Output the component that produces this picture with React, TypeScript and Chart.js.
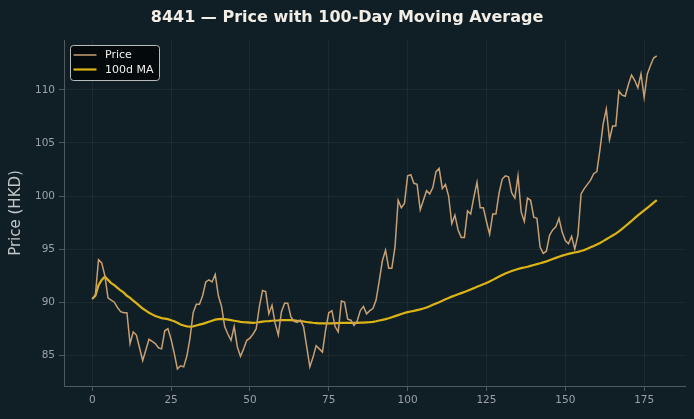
import React, { useEffect, useRef } from "react";
import { Chart, registerables } from "chart.js";

Chart.register(...registerables);

const TITLE = "8441 — Price with 100-Day Moving Average";
const Y_LABEL = "Price (HKD)";
const SERIES_NAMES = ["Price", "100d MA"];

const PRICE = [
  90.3, 90.7, 94.0, 93.7, 92.5, 90.4, 90.2, 90.0, 89.5, 89.1,
  89.0, 89.0, 86.1, 87.2, 86.9, 85.7, 84.5, 85.5, 86.5, 86.3,
  86.1, 85.7, 85.6, 87.3, 87.5, 86.5, 85.2, 83.7, 84.0, 83.9,
  84.9, 86.6, 89.0, 89.8, 89.8, 90.6, 91.9, 92.1, 91.9, 92.6,
  90.6, 89.6, 87.7, 87.0, 86.4, 87.7, 85.8, 84.9, 85.6, 86.4,
  86.6, 87.0, 87.5, 89.6, 91.1, 91.0, 88.9, 89.7, 88.0, 86.9,
  89.1, 89.9, 89.9, 88.6, 88.2, 88.1, 88.3, 87.7, 85.8, 83.9,
  84.8, 85.9, 85.6, 85.3, 87.4, 89.0, 89.2, 87.7, 87.2, 90.1,
  90.0, 88.4, 88.3, 87.8, 88.2, 89.2, 89.6, 88.9, 89.2, 89.4,
  90.2, 92.0, 93.9, 94.9, 93.2, 93.2, 95.2, 99.6, 98.9, 99.3,
  101.9, 102.0, 101.2, 101.1, 98.7, 99.6, 100.5, 100.2, 100.8, 102.3,
  102.6, 100.7, 101.1, 100.0, 97.4, 98.2, 96.8, 96.1, 96.1, 98.6,
  98.3, 99.9, 101.3, 98.9, 98.9, 97.6, 96.4, 98.3, 98.3, 100.3,
  101.6, 101.9, 101.8, 100.3, 99.8, 101.9, 98.5, 97.6, 99.8, 99.6,
  98.0, 97.9, 95.2, 94.6, 94.8, 96.3, 96.8, 97.1, 97.9, 96.6,
  95.8, 95.5, 96.2, 95.0, 96.3, 100.2, 100.7, 101.1, 101.5, 102.1,
  102.3, 104.4, 106.8, 108.2, 105.3, 106.6, 106.6, 109.9, 109.5, 109.4,
  110.5, 111.4, 110.9, 110.2, 111.5, 109.3, 111.5, 112.3, 113.0, 113.2,
];

const MA = [
  90.3, 90.6, 91.6, 92.1, 92.4, 92.1, 91.8, 91.6, 91.35, 91.1,
  90.9, 90.6, 90.4, 90.15, 89.9, 89.65, 89.4, 89.2, 89.0, 88.85,
  88.7, 88.6, 88.5, 88.45, 88.4, 88.3, 88.2, 88.05, 87.9, 87.8,
  87.72, 87.7, 87.72, 87.8, 87.88, 87.95, 88.05, 88.15, 88.25, 88.35,
  88.4, 88.42, 88.4, 88.35, 88.3, 88.25, 88.2, 88.15, 88.12, 88.1,
  88.08, 88.05, 88.08, 88.12, 88.17, 88.2, 88.22, 88.25, 88.27, 88.28,
  88.3, 88.3, 88.3, 88.3, 88.28, 88.25, 88.22, 88.18, 88.13, 88.1,
  88.06, 88.03, 88.0, 88.0, 88.0, 88.0, 88.0, 88.02, 88.03, 88.05,
  88.05, 88.05, 88.05, 88.05, 88.05, 88.07, 88.08, 88.1, 88.12, 88.15,
  88.2, 88.27, 88.33, 88.4, 88.48, 88.58, 88.68, 88.78, 88.88, 88.98,
  89.06, 89.12, 89.18, 89.25, 89.32, 89.4, 89.5, 89.62, 89.75, 89.88,
  90.0, 90.13, 90.27, 90.4, 90.52, 90.63, 90.74, 90.85, 90.96, 91.07,
  91.2, 91.32, 91.45, 91.56, 91.68, 91.8, 91.94, 92.1, 92.26, 92.42,
  92.56, 92.7, 92.82, 92.93, 93.03, 93.12, 93.2, 93.27, 93.34, 93.42,
  93.5, 93.58, 93.66, 93.75, 93.84, 93.95, 94.06, 94.17, 94.28, 94.38,
  94.47, 94.55, 94.62, 94.68, 94.74, 94.82, 94.92, 95.04, 95.17, 95.3,
  95.44, 95.58, 95.75, 95.93, 96.1, 96.28, 96.46, 96.67, 96.9, 97.15,
  97.4, 97.65, 97.92, 98.18, 98.42, 98.65, 98.88, 99.12, 99.37, 99.62,
];

const X_TICKS = [0, 25, 50, 75, 100, 125, 150, 175];
const Y_TICKS = [85, 90, 95, 100, 105, 110];

const BG = "#101f26";
const PRICE_COLOR = "#c89f72";
const MA_COLOR = "#dcb416";
const TICK_TEXT = "#9ba1a5";
const SPINE = "#4f585d";
const GRID = "rgba(255,255,255,0.055)";
const FONT = "'DejaVu Sans', sans-serif";

const decorPlugin = {
  id: "decor",
  beforeDraw(chart: any) {
    const ctx = chart.ctx;
    ctx.save();
    ctx.fillStyle = BG;
    ctx.fillRect(0, 0, chart.width, chart.height);
    ctx.restore();
  },
  afterDraw(chart: any) {
    const ctx = chart.ctx;
    ctx.save();
    // title
    ctx.fillStyle = "#f2eee6";
    ctx.font = `bold 16px ${FONT}`;
    ctx.textAlign = "center";
    ctx.textBaseline = "middle";
    ctx.fillText(TITLE, 347, 18);

    // legend
    const lx = 70.5, ly = 45.5, lw = 89, lh = 35, r = 3;
    ctx.beginPath();
    ctx.moveTo(lx + r, ly);
    ctx.lineTo(lx + lw - r, ly);
    ctx.quadraticCurveTo(lx + lw, ly, lx + lw, ly + r);
    ctx.lineTo(lx + lw, ly + lh - r);
    ctx.quadraticCurveTo(lx + lw, ly + lh, lx + lw - r, ly + lh);
    ctx.lineTo(lx + r, ly + lh);
    ctx.quadraticCurveTo(lx, ly + lh, lx, ly + lh - r);
    ctx.lineTo(lx, ly + r);
    ctx.quadraticCurveTo(lx, ly, lx + r, ly);
    ctx.closePath();
    ctx.fillStyle = "rgba(3,8,10,0.92)";
    ctx.fill();
    ctx.strokeStyle = "#b9bcbd";
    ctx.lineWidth = 1;
    ctx.stroke();

    const rows = [
      { name: SERIES_NAMES[0], color: PRICE_COLOR, w: 1.5, y: 55 },
      { name: SERIES_NAMES[1], color: MA_COLOR, w: 2.2, y: 69.5 },
    ];
    ctx.font = `11px ${FONT}`;
    ctx.textAlign = "left";
    ctx.textBaseline = "middle";
    for (const row of rows) {
      ctx.beginPath();
      ctx.moveTo(73.5, row.y);
      ctx.lineTo(96.5, row.y);
      ctx.strokeStyle = row.color;
      ctx.lineWidth = row.w;
      ctx.stroke();
      ctx.fillStyle = "#eeeeee";
      ctx.fillText(row.name, 105, row.y + 0.5);
    }
    ctx.restore();
  },
};

export default function App() {
  const ref = useRef<HTMLCanvasElement | null>(null);

  useEffect(() => {
    document.body.style.margin = "0";
    document.body.style.background = BG;
    const canvas = ref.current;
    if (!canvas) return;
    const chart = new Chart(canvas, {
      type: "line",
      data: {
        datasets: [
          {
            label: SERIES_NAMES[0],
            data: PRICE.map((v, i) => ({ x: i, y: v })),
            borderColor: PRICE_COLOR,
            borderWidth: 1.5,
            pointRadius: 0,
            tension: 0,
            fill: false,
          },
          {
            label: SERIES_NAMES[1],
            data: MA.map((v, i) => ({ x: i, y: v })),
            borderColor: MA_COLOR,
            borderWidth: 2.2,
            pointRadius: 0,
            tension: 0,
            fill: false,
          },
        ],
      },
      options: {
        responsive: false,
        animation: false,
        layout: { padding: { top: 40, right: 9, left: 0, bottom: 0 } },
        plugins: {
          legend: { display: false },
          title: { display: false },
          tooltip: { enabled: false },
        },
        scales: {
          x: {
            type: "linear",
            min: -8.95,
            max: 187.95,
            afterBuildTicks: (s: any) => {
              s.ticks = X_TICKS.map((v) => ({ value: v }));
            },
            afterFit: (s: any) => {
              s.height = 33;
            },
            ticks: {
              color: TICK_TEXT,
              font: { family: FONT, size: 10.5 },
              padding: 3,
              maxRotation: 0,
              autoSkip: false,
            },
            grid: {
              color: GRID,
              tickColor: SPINE,
              tickLength: 5,
              drawTicks: true,
            },
            border: { display: true, color: SPINE, width: 1 },
          },
          y: {
            type: "linear",
            min: 82.1,
            max: 114.7,
            afterBuildTicks: (s: any) => {
              s.ticks = Y_TICKS.map((v) => ({ value: v }));
            },
            afterFit: (s: any) => {
              s.width = 64;
            },
            ticks: {
              color: TICK_TEXT,
              font: { family: FONT, size: 10.5 },
              padding: 4,
            },
            grid: {
              color: GRID,
              tickColor: SPINE,
              tickLength: 5,
              drawTicks: true,
            },
            border: { display: true, color: SPINE, width: 1 },
            title: {
              display: true,
              text: Y_LABEL,
              color: "#c4c6c7",
              font: { family: FONT, size: 15 },
              padding: { top: 7, bottom: 0 },
            },
          },
        },
      },
      plugins: [decorPlugin],
    });
    return () => chart.destroy();
  }, []);

  return (
    <div style={{ width: 694, height: 419, background: BG }}>
      <canvas ref={ref} width={694} height={419} style={{ display: "block" }} />
    </div>
  );
}
